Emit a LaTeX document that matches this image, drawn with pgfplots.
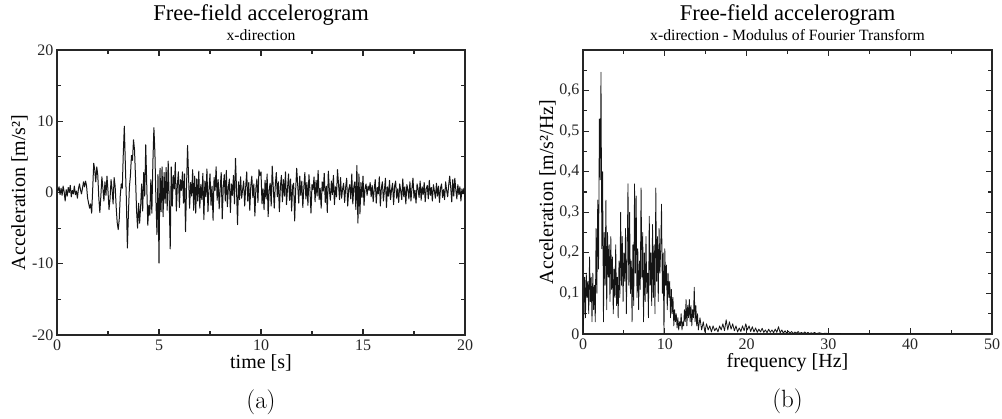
\documentclass[border=0pt]{standalone}
\usepackage{pgfplots}
\pgfplotsset{compat=1.18}
\usepackage{fontspec}
\newfontfamily\tms{Liberation Serif}
\begin{document}
\begin{tikzpicture}
\useasboundingbox (0pt,0pt) rectangle (1002pt,419pt);
\pgfplotsset{
  every axis/.append style={
    scale only axis,
    axis line style={line width=1.2pt, color=black!85},
    tick style={line width=1.1pt, color=black!85},
    major tick length=6pt, minor tick length=4pt,
    tick align=inside,
    ticklabel style={font=\tms\fontsize{16}{16}\selectfont, color=black!85},
    xticklabel style={yshift=-1pt},
  }
}
% ---------- (a) ----------
\begin{axis}[name=A, at={(57pt,84pt)}, anchor=south west,
  width=408pt, height=285pt,
  xmin=0, xmax=20, ymin=-20, ymax=20,
  xtick={0,5,10,15,20}, xticklabels={0,5,10,15,20},
  minor xtick={2.5,7.5,12.5,17.5},
  ytick={-20,-10,0,10,20}, yticklabels={-20,-10,0,10,20},
  minor ytick={-15,-5,5,15},
]
\addplot[black!92, line width=1.0pt, line join=round] coordinates {
(0.00,0.5)(0.05,0.2)(0.10,0.8)(0.15,-0.3)(0.20,0.6)(0.25,-0.4)(0.30,0.9)(0.35,0.1)(0.40,-1.2)(0.45,0.4)
(0.50,-0.5)(0.55,0.7)(0.60,0.0)(0.65,1.0)(0.70,-0.6)(0.75,0.3)(0.80,-0.2)(0.85,0.9)(0.90,-0.3)(0.95,0.2)
(1.00,-0.8)(1.05,0.5)(1.10,1.2)(1.15,0.4)(1.20,-0.2)(1.25,0.6)(1.30,1.5)(1.35,0.8)(1.40,1.6)(1.45,0.9)
(1.50,-0.8)(1.55,-1.5)(1.60,-2.2)(1.65,-1.6)(1.70,-2.9)(1.75,0.5)(1.80,4.1)(1.85,3.2)(1.90,1.5)(1.95,3.6)
(2.00,2.4)(2.05,-0.8)(2.10,-2.8)(2.15,-0.5)(2.20,2.2)(2.25,0.6)(2.30,-1.2)(2.35,1.5)(2.40,-0.4)(2.45,2.3)
(2.50,0.2)(2.55,-2.4)(2.60,-0.9)(2.65,1.8)(2.70,0.4)(2.75,-1.6)(2.80,2.1)(2.85,0.9)(2.90,-2.0)(2.95,-4.2)
(3.00,-5.2)(3.05,-3.8)(3.10,-0.5)(3.15,1.2)(3.20,0.6)(3.25,5.5)(3.30,9.3)(3.35,4.0)(3.40,-1.0)(3.45,-7.8)
(3.50,-3.0)(3.55,0.8)(3.60,2.4)(3.65,5.2)(3.70,4.5)(3.75,7.4)(3.80,6.0)(3.85,2.0)(3.90,-2.5)(3.95,-5.0)
(4.00,-1.5)(4.05,-4.3)(4.10,-2.0)(4.15,1.2)(4.20,-2.6)(4.25,2.8)(4.30,-0.5)(4.35,6.7)(4.40,1.0)(4.45,-4.6)
(4.50,-1.8)(4.55,-3.2)(4.60,1.8)(4.65,-2.9)(4.70,4.2)(4.75,9.1)(4.80,5.5)(4.85,-1.2)(4.90,-5.9)(4.95,2.5)
(5.00,-9.9)(5.05,3.4)(5.10,-2.7)(5.15,3.6)(5.20,-3.4)(5.25,2.8)(5.30,-1.5)(5.35,3.5)(5.40,-2.5)(5.45,4.4)
(5.50,-0.8)(5.55,-7.9)(5.60,3.6)(5.65,-1.9)(5.70,2.4)(5.75,0.5)(5.80,4.2)(5.85,-2.6)(5.90,1.0)(5.95,2.9)
(6.00,-2.1)(6.05,1.8)(6.10,0.3)(6.15,2.9)(6.20,-1.5)(6.25,2.6)(6.30,-5.5)(6.35,0.9)(6.40,6.6)(6.45,2.1)
(6.50,-2.2)(6.55,1.4)(6.60,-0.5)(6.65,3.2)(6.70,-2.5)(6.75,2.3)(6.80,-2.9)(6.85,1.9)(6.90,-1.2)(6.95,3.0)
(7.00,-2.2)(7.05,1.1)(7.10,-1.0)(7.15,2.7)(7.20,-3.8)(7.25,1.6)(7.30,-0.6)(7.35,3.3)(7.40,-2.7)(7.45,0.4)
(7.50,2.6)(7.55,-1.8)(7.60,0.9)(7.65,-3.9)(7.70,2.1)(7.75,0.3)(7.80,3.6)(7.85,-1.1)(7.90,1.8)(7.95,-2.3)
(8.00,0.6)(8.05,2.8)(8.10,-3.7)(8.15,0.8)(8.20,2.5)(8.25,-1.2)(8.30,3.1)(8.35,-2.0)(8.40,0.7)(8.45,1.9)
(8.50,-2.8)(8.55,1.2)(8.60,-0.4)(8.65,2.4)(8.70,-1.6)(8.75,4.8)(8.80,0.5)(8.85,-4.5)(8.90,1.5)(8.95,-1.0)
(9.00,2.2)(9.05,-0.8)(9.10,0.4)(9.15,1.6)(9.20,-1.9)(9.25,0.8)(9.30,2.9)(9.35,-1.2)(9.40,1.4)(9.45,-2.5)
(9.50,0.9)(9.55,2.3)(9.60,-0.7)(9.65,1.2)(9.70,-3.3)(9.75,0.6)(9.80,1.9)(9.85,-1.4)(9.90,3.2)(9.95,2.4)
(10.00,2.9)(10.05,-1.6)(10.10,0.5)(10.15,-2.4)(10.20,1.7)(10.25,-0.9)(10.30,2.6)(10.35,-3.4)(10.40,0.4)(10.45,1.3)
(10.50,-1.9)(10.55,3.7)(10.60,0.8)(10.65,-2.2)(10.70,1.0)(10.75,2.8)(10.80,-0.6)(10.85,1.5)(10.90,-2.7)(10.95,0.8)
(11.00,2.4)(11.05,-1.3)(11.10,1.8)(11.15,-0.5)(11.20,2.9)(11.25,-1.7)(11.30,0.6)(11.35,2.6)(11.40,-1.1)(11.45,1.9)
(11.50,-2.6)(11.55,0.9)(11.60,1.3)(11.65,-4.0)(11.70,0.4)(11.75,3.4)(11.80,1.0)(11.85,-1.5)(11.90,2.3)(11.95,-0.4)
(12.00,1.6)(12.05,-2.1)(12.10,0.7)(12.15,2.8)(12.20,-0.9)(12.25,1.4)(12.30,-1.8)(12.35,2.5)(12.40,0.3)(12.45,-2.9)
(12.50,1.1)(12.55,0.4)(12.60,2.2)(12.65,-1.3)(12.70,1.7)(12.75,-0.5)(12.80,3.1)(12.85,-1.0)(12.90,0.6)(12.95,-2.2)
(13.00,1.5)(13.05,0.2)(13.10,2.7)(13.15,-1.4)(13.20,0.9)(13.25,-2.8)(13.30,3.0)(13.35,0.4)(13.40,-1.1)(13.45,1.6)
(13.50,-0.3)(13.55,2.4)(13.60,-1.7)(13.65,0.8)(13.70,-0.6)(13.75,3.2)(13.80,1.2)(13.85,-1.0)(13.90,2.1)(13.95,-0.8)
(14.00,0.5)(14.05,1.3)(14.10,-1.4)(14.15,0.7)(14.20,2.0)(14.25,-1.9)(14.30,0.4)(14.35,1.1)(14.40,-0.9)(14.45,2.6)
(14.50,-1.6)(14.55,0.8)(14.60,1.5)(14.65,-2.4)(14.70,3.8)(14.75,-4.3)(14.80,2.6)(14.85,-3.0)(14.90,1.4)(14.95,-0.7)
(15.00,2.3)(15.05,-1.8)(15.10,0.6)(15.15,1.2)(15.20,-0.4)(15.25,0.9)(15.30,0.3)(15.35,1.4)(15.40,-0.6)(15.45,1.0)
(15.50,-1.3)(15.55,0.5)(15.60,1.8)(15.65,-1.5)(15.70,0.7)(15.75,-0.2)(15.80,2.2)(15.85,-1.9)(15.90,0.6)(15.95,1.5)
(16.00,-1.2)(16.05,0.3)(16.10,2.0)(16.15,-2.1)(16.20,0.8)(16.25,-0.5)(16.30,1.7)(16.35,-1.0)(16.40,0.4)(16.45,1.3)
(16.50,-1.7)(16.55,0.9)(16.60,1.6)(16.65,-0.8)(16.70,0.5)(16.75,-1.4)(16.80,1.2)(16.85,0.2)(16.90,-1.0)(16.95,1.9)
(17.00,-0.6)(17.05,0.8)(17.10,-1.6)(17.15,1.1)(17.20,0.4)(17.25,-0.9)(17.30,1.5)(17.35,-1.2)(17.40,0.6)(17.45,2.0)
(17.50,-0.8)(17.55,0.3)(17.60,-1.5)(17.65,1.2)(17.70,0.5)(17.75,-0.7)(17.80,1.6)(17.85,-1.1)(17.90,0.8)(17.95,-0.3)
(18.00,1.4)(18.05,-1.3)(18.10,0.5)(18.15,1.0)(18.20,-0.9)(18.25,1.7)(18.30,-0.4)(18.35,0.7)(18.40,-1.2)(18.45,1.1)
(18.50,0.2)(18.55,-0.8)(18.60,1.3)(18.65,-0.5)(18.70,0.9)(18.75,-1.4)(18.80,0.6)(18.85,1.2)(18.90,-0.7)(18.95,0.4)
(19.00,-1.0)(19.05,1.5)(19.10,0.3)(19.15,-0.6)(19.20,1.0)(19.25,2.3)(19.30,0.7)(19.35,-1.3)(19.40,1.8)(19.45,-0.5)
(19.50,2.0)(19.55,0.4)(19.60,-0.9)(19.65,1.1)(19.70,-0.3)(19.75,0.8)(19.80,-1.2)(19.85,0.5)(19.90,-0.2)(19.95,0.6)
(20.00,-1.0)
};
\end{axis}
\node[anchor=base, font=\tms\fontsize{22.5}{26}\selectfont] at ([yshift=29pt]A.north) {Free-field accelerogram};
\node[anchor=base, font=\tms\fontsize{15.7}{18}\selectfont] at ([yshift=9pt]A.north) {x-direction};
\node[anchor=base, font=\tms\fontsize{20}{24}\selectfont] at ([yshift=-34pt]A.south) {time [s]};
\node[anchor=base, rotate=90, font=\tms\fontsize{20}{24}\selectfont] at ([xshift=-32pt]A.west) {Acceleration [m/s²]};
\node[anchor=base, font=\fontsize{25}{30}\selectfont] at ([yshift=-74pt]A.south) {(a)};
% ---------- (b) ----------
\begin{axis}[name=B, at={(583pt,85pt)}, anchor=south west,
  width=409pt, height=284pt,
  xmin=0, xmax=50, ymin=0, ymax=0.7,
  xtick={0,10,20,30,40,50}, xticklabels={0,10,20,30,40,50},
  minor xtick={5,15,25,35,45},
  ytick={0,0.1,0.2,0.3,0.4,0.5,0.6,0.7}, yticklabels={0,{0,1},{0,2},{0,3},{0,4},{0,5},{0,6},{}},
  minor ytick={0.05,0.15,0.25,0.35,0.45,0.55,0.65},
]
\addplot[black!92, line width=0.8pt, line join=round] coordinates {
(0.0,0.00)(0.1,0.05)(0.2,0.14)(0.3,0.04)(0.4,0.15)(0.5,0.09)(0.6,0.13)(0.7,0.05)(0.8,0.19)(0.9,0.08)
(1.0,0.14)(1.1,0.03)(1.2,0.15)(1.3,0.06)(1.4,0.12)(1.5,0.03)(1.6,0.26)(1.7,0.10)(1.8,0.33)(1.9,0.16)
(2.0,0.53)(2.1,0.38)(2.2,0.645)(2.3,0.21)(2.4,0.40)(2.5,0.03)(2.6,0.25)(2.7,0.12)(2.8,0.33)(2.9,0.06)
(3.0,0.25)(3.1,0.14)(3.2,0.22)(3.3,0.08)(3.4,0.24)(3.5,0.11)(3.6,0.19)(3.7,0.05)(3.8,0.16)(3.9,0.09)
(4.0,0.22)(4.1,0.07)(4.2,0.14)(4.3,0.04)(4.4,0.18)(4.5,0.09)(4.6,0.30)(4.7,0.12)(4.8,0.24)(4.9,0.08)
(5.0,0.20)(5.1,0.13)(5.2,0.26)(5.3,0.05)(5.4,0.19)(5.5,0.37)(5.6,0.12)(5.7,0.30)(5.8,0.10)(5.9,0.18)
(6.0,0.03)(6.1,0.22)(6.2,0.07)(6.3,0.37)(6.4,0.15)(6.5,0.34)(6.6,0.09)(6.7,0.21)(6.8,0.06)(6.9,0.18)
(7.0,0.11)(7.1,0.36)(7.2,0.14)(7.3,0.25)(7.4,0.03)(7.5,0.20)(7.6,0.08)(7.7,0.24)(7.8,0.10)(7.9,0.15)
(8.0,0.04)(8.1,0.29)(8.2,0.12)(8.3,0.20)(8.4,0.07)(8.5,0.27)(8.6,0.09)(8.7,0.22)(8.8,0.05)(8.9,0.36)
(9.0,0.13)(9.1,0.24)(9.2,0.08)(9.3,0.26)(9.4,0.15)(9.5,0.21)(9.6,0.32)(9.7,0.10)(9.8,0.20)(9.9,0.00)
(10.0,0.21)(10.1,0.12)(10.2,0.17)(10.3,0.06)(10.4,0.15)(10.5,0.09)(10.6,0.13)(10.7,0.04)(10.8,0.11)(10.9,0.05)
(11.0,0.09)(11.1,0.02)(11.2,0.06)(11.3,0.03)(11.4,0.05)(11.5,0.015)(11.6,0.04)(11.7,0.01)(11.8,0.03)(11.9,0.02)
(12.0,0.05)(12.1,0.01)(12.2,0.03)(12.3,0.02)(12.4,0.06)(12.5,0.03)(12.6,0.085)(12.7,0.02)(12.8,0.07)(12.9,0.04)
(13.0,0.085)(13.1,0.03)(13.2,0.07)(13.3,0.02)(13.4,0.06)(13.5,0.04)(13.6,0.115)(13.7,0.03)(13.8,0.07)(13.9,0.02)
(14.0,0.05)(14.1,0.01)(14.3,0.04)(14.5,0.01)(14.7,0.03)(14.9,0.005)(15.1,0.025)(15.3,0.01)(15.5,0.02)(15.7,0.005)
(15.9,0.02)(16.1,0.008)(16.3,0.015)(16.5,0.005)(16.7,0.02)(16.9,0.01)(17.1,0.025)(17.3,0.008)(17.5,0.035)(17.7,0.01)
(17.9,0.03)(18.1,0.012)(18.3,0.025)(18.5,0.008)(18.7,0.02)(18.9,0.005)(19.1,0.015)(19.3,0.006)(19.5,0.02)(19.7,0.008)
(19.9,0.025)(20.1,0.01)(20.3,0.02)(20.5,0.006)(20.7,0.018)(20.9,0.005)(21.1,0.015)(21.3,0.004)(21.5,0.012)(21.7,0.005)
(21.9,0.014)(22.1,0.004)(22.3,0.01)(22.5,0.003)(22.7,0.012)(22.9,0.004)(23.1,0.01)(23.3,0.003)(23.5,0.012)(23.7,0.004)
(23.9,0.018)(24.1,0.003)(24.3,0.01)(24.5,0.002)(24.7,0.008)(24.9,0.002)(25.1,0.007)(25.3,0.002)(25.5,0.006)(25.7,0.001)
(25.9,0.005)(26.1,0.002)(26.3,0.006)(26.5,0.001)(26.7,0.004)(26.9,0.001)(27.1,0.005)(27.3,0.001)(27.5,0.004)(27.7,0.001)
(27.9,0.003)(28.1,0.001)(28.3,0.004)(28.5,0.001)(28.9,0.003)(29.3,0.001)(29.7,0.002)(30.0,0.001)(35,0.0005)(40,0.0003)(50,0.0)
};
\end{axis}
\node[anchor=base, font=\tms\fontsize{22.5}{26}\selectfont] at ([yshift=29pt]B.north) {Free-field accelerogram};
\node[anchor=base, font=\tms\fontsize{15.7}{18}\selectfont] at ([yshift=10pt]B.north) {x-direction - Modulus of Fourier Transform};
\node[anchor=base, font=\tms\fontsize{20}{24}\selectfont] at ([yshift=-34pt]B.south) {frequency [Hz]};
\node[anchor=base, rotate=90, font=\tms\fontsize{20}{24}\selectfont] at ([xshift=-30pt]B.west) {Acceleration [m/s²/Hz]};
\node[anchor=base, font=\fontsize{25}{30}\selectfont] at ([yshift=-74pt]B.south) {(b)};
\end{tikzpicture}
\end{document}
